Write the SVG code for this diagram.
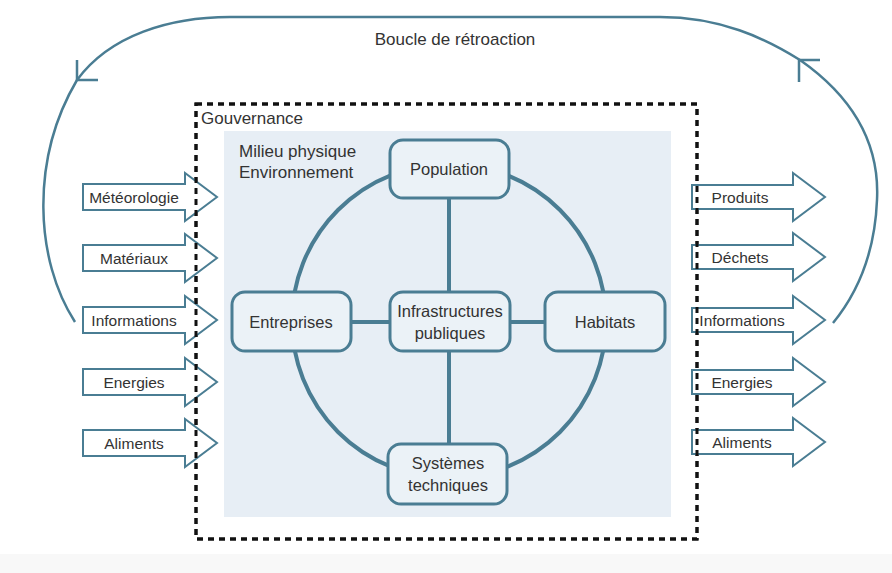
<svg xmlns="http://www.w3.org/2000/svg" width="892" height="573" viewBox="0 0 892 573">
<style>
text{font-family:"Liberation Sans",Arial,sans-serif;fill:#333}
.node rect{fill:#ebf2f7;stroke:#4a7d93;stroke-width:3}
.node text{font-size:16.5px;text-anchor:middle}
.link{stroke:#4a7d93;stroke-width:4;fill:none}
.flow use{fill:#fff;stroke:#4a7d93;stroke-width:2}
.flow text{font-size:15.5px;text-anchor:middle}
.loop{fill:none;stroke:#4a7d93;stroke-width:2.5}
.gov{fill:none;stroke:#111;stroke-width:3;stroke-dasharray:6 5}
</style>
<defs>
<path id="inArrow" d="M83 -13 H185 V-24 L217 0 L185 24 V13 H83 Z"/>
<path id="outArrow" d="M692 -12 H793 V-24 L825 0 L793 24 V12 H692 Z"/>
</defs>
<rect x="0" y="0" width="892" height="573" fill="#fff"/>
<rect x="0" y="554" width="892" height="19" fill="#f8f8f8"/>
<g id="feedback-loop">
<path class="loop" d="M75 322 C35 260 30 160 77 80 C110 35 170 17 230 17 L660 17 C720 17 765 38 800 60 C850 95 880 140 877 200 C875 250 860 290 833 323"/>
<path class="loop" d="M77 60 V80 H98"/>
<path class="loop" d="M799 82 V60 H820"/>
<text x="455" y="45" font-size="17" text-anchor="middle">Boucle de rétroaction</text>
</g>
<g id="governance">
<rect class="gov" x="196" y="104" width="501" height="435"/>
<text x="201" y="124" font-size="17">Gouvernance</text>
</g>
<g id="milieu">
<rect x="224" y="131" width="447" height="386" fill="#e7eef5"/>
<text x="239" y="157" font-size="17">Milieu physique</text>
<text x="239" y="178" font-size="17">Environnement</text>
</g>
<g id="connectors">
<circle class="link" cx="449" cy="321" r="157"/>
<line class="link" x1="449" y1="198" x2="449" y2="292"/>
<line class="link" x1="449" y1="350" x2="449" y2="444"/>
<line class="link" x1="350" y1="322" x2="391" y2="322"/>
<line class="link" x1="509" y1="322" x2="546" y2="322"/>
</g>
<g id="population" class="node"><rect x="390" y="140" width="119" height="58" rx="13"/><text x="449" y="175">Population</text></g>
<g id="entreprises" class="node"><rect x="232" y="292" width="119" height="59" rx="13"/><text x="291" y="328">Entreprises</text></g>
<g id="infrastructures" class="node"><rect x="390" y="292" width="120" height="59" rx="13"/><text x="450" y="317">Infrastructures</text><text x="450" y="339">publiques</text></g>
<g id="habitats" class="node"><rect x="545" y="292" width="120" height="59" rx="13"/><text x="605" y="328">Habitats</text></g>
<g id="systemes" class="node"><rect x="388" y="444" width="119" height="60" rx="13"/><text x="448" y="469">Systèmes</text><text x="448" y="491">techniques</text></g>
<g id="inputs" class="flow">
<g id="in-meteo" transform="translate(0,197)"><use href="#inArrow"/><text x="134" y="5.5">Météorologie</text></g>
<g id="in-materiaux" transform="translate(0,258)"><use href="#inArrow"/><text x="134" y="5.5">Matériaux</text></g>
<g id="in-informations" transform="translate(0,320)"><use href="#inArrow"/><text x="134" y="5.5">Informations</text></g>
<g id="in-energies" transform="translate(0,382)"><use href="#inArrow"/><text x="134" y="5.5">Energies</text></g>
<g id="in-aliments" transform="translate(0,443)"><use href="#inArrow"/><text x="134" y="5.5">Aliments</text></g>
</g>
<g id="outputs" class="flow">
<g id="out-produits" transform="translate(0,197)"><use href="#outArrow"/><text x="740" y="5.5">Produits</text></g>
<g id="out-dechets" transform="translate(0,257)"><use href="#outArrow"/><text x="740" y="5.5">Déchets</text></g>
<g id="out-informations" transform="translate(0,320)"><use href="#outArrow"/><text x="742" y="5.5">Informations</text></g>
<g id="out-energies" transform="translate(0,382)"><use href="#outArrow"/><text x="742" y="5.5">Energies</text></g>
<g id="out-aliments" transform="translate(0,442)"><use href="#outArrow"/><text x="742" y="5.5">Aliments</text></g>
</g>
<rect class="gov" x="196" y="104" width="501" height="435"/>
</svg>
